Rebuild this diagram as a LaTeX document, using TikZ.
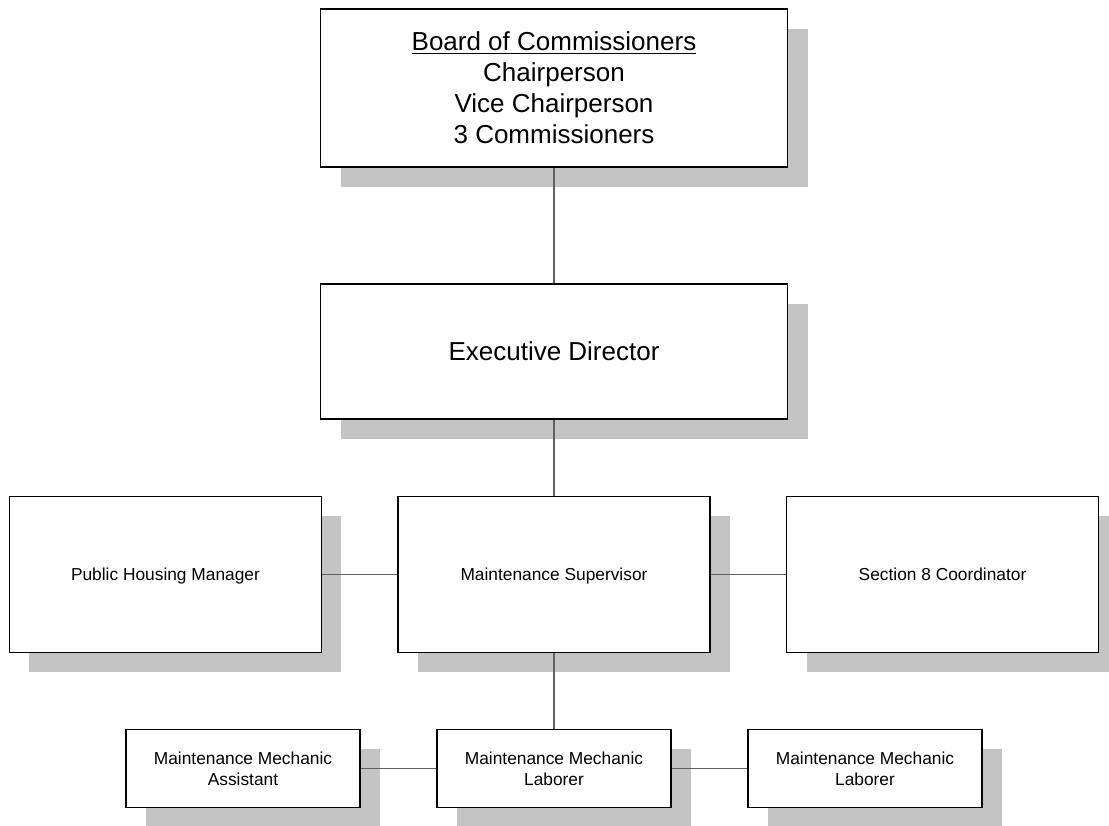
\documentclass[tikz,border=0pt]{standalone}
\usepackage{fontspec}
\setmainfont{Liberation Sans}
\usetikzlibrary{shadows,positioning}
\definecolor{shadowgray}{RGB}{196,196,196}
\definecolor{linkgray}{RGB}{96,96,96}
\tikzset{
    org box/.style={draw=black,line width=1pt,fill=white,rectangle,inner sep=2pt,align=center,drop shadow={shadow xshift=15pt,shadow yshift=-15pt,opacity=1,fill=shadowgray}},
    big box/.style={org box,minimum width=350.25pt,minimum height=118.5pt,font=\fontsize{19.5pt}{23.25pt}\selectfont},
    mid box/.style={org box,minimum width=234pt,minimum height=117pt,text height=9.3pt,text depth=0pt,font=\fontsize{13pt}{15.5pt}\selectfont},
    small box/.style={org box,minimum width=175.5pt,minimum height=58.5pt,font=\fontsize{13pt}{15.5pt}\selectfont},
}
\begin{document}
\begin{tikzpicture}[x=0.75pt,y=-0.75pt,node distance=197.6pt,link/.style={draw=linkgray,line width=1pt}]
        \useasboundingbox (0,0) rectangle (1109,825);
        \node[big box] (board) at (554,88) {\underline{Board of Commissioners}\\Chairperson\\Vice Chairperson\\3 Commissioners};
        \node[big box,minimum height=101.25pt,text height=14pt,text depth=0pt] (ed) [below of = board]{Executive Director};
        \node[mid box] (sup) [below of = ed, node distance=167.25pt]{Maintenance Supervisor};
        \node[mid box] (phm) [left of = sup, node distance=291.4pt]{Public Housing Manager};
        \node[mid box] (sec8) [right of = sup, node distance=291.4pt]{Section 8 Coordinator};
        \node[small box] (lab) [below of = sup, node distance=145.5pt]{Maintenance Mechanic\\Laborer};
        \node[small box] (asst) [left of = lab, node distance=233.25pt]{Maintenance Mechanic\\Assistant};
        \node[small box] (lab2) [right of = lab, node distance=233.25pt]{Maintenance Mechanic\\Laborer};

        \path[link]
            (board) edge (ed)
            (ed) edge (sup)
            (phm) edge (sup)
            (sup) edge (sec8)
            (sup) edge (lab)
            (asst) edge (lab)
            (lab) edge (lab2)
            ;
\end{tikzpicture}
\end{document}
